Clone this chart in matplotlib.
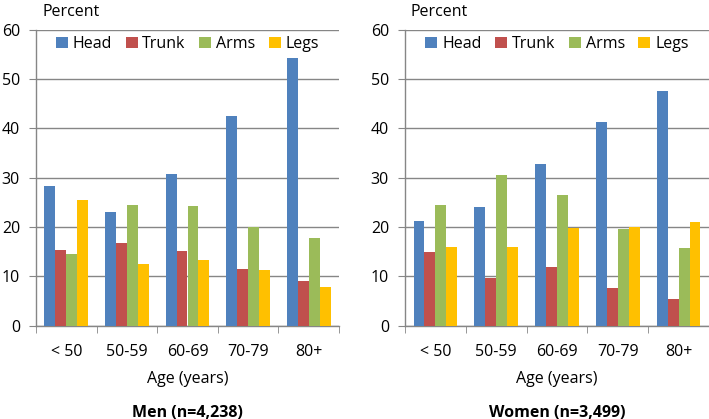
import matplotlib
matplotlib.use("Agg")
import matplotlib.pyplot as plt
import numpy as np

plt.rcParams['font.family'] = ['Open Sans', 'DejaVu Sans']

ages = ['< 50', '50-59', '60-69', '70-79', '80+']
parts = ['Head', 'Trunk', 'Arms', 'Legs']
colors = ['#4F81BD', '#C0504D', '#9BBB59', '#FFC000']

men_head = [28.4, 23.1, 30.8, 42.5, 54.3]
men_trunk = [15.3, 16.8, 15.2, 11.5, 9.0]
men_arms = [14.5, 24.4, 24.2, 20.0, 17.8]
men_legs = [25.5, 12.5, 13.4, 11.3, 7.9]

women_head = [21.2, 24.0, 32.7, 41.2, 47.6]
women_trunk = [14.9, 9.7, 11.9, 7.6, 5.5]
women_arms = [24.4, 30.6, 26.4, 19.7, 15.7]
women_legs = [15.9, 15.9, 19.8, 20.0, 21.0]

men = [men_head, men_trunk, men_arms, men_legs]
women = [women_head, women_trunk, women_arms, women_legs]

W, H = 709, 419
fig = plt.figure(figsize=(W / 100, H / 100), dpi=100)

ax1 = fig.add_axes([36 / W, 1 - 325.7 / H, 303 / W, 296 / H])
ax2 = fig.add_axes([405 / W, 1 - 325.7 / H, 304 / W, 296 / H])

grid_c = '#868686'
w = 0.18
x = np.arange(len(ages))

for ax, data, title in [(ax1, men, 'Men (n=4,238)'), (ax2, women, 'Women (n=3,499)')]:
    for i, (vals, c) in enumerate(zip(data, colors)):
        ax.bar(x + (i - 1.5) * w, vals, width=w, color=c, label=parts[i], zorder=3)
    ax.set_xlim(-0.5, 4.5)
    ax.set_ylim(0, 60)
    ax.set_yticks(range(0, 61, 10))
    ax.yaxis.grid(True, color=grid_c, linewidth=1, zorder=0)
    ax.set_xticks(x)
    ax.set_xticklabels(ages, fontsize=11.5)
    ax.set_xticks(np.arange(-0.5, 5, 1), minor=True)
    ax.tick_params(axis='x', which='major', length=0, pad=13)
    ax.tick_params(axis='x', which='minor', length=5, color=grid_c, direction='out')
    ax.tick_params(axis='y', length=5, color=grid_c, labelsize=11.5, pad=6.5)
    for s in ['top', 'right']:
        ax.spines[s].set_visible(False)
    for s in ['left', 'bottom']:
        ax.spines[s].set_color(grid_c)
        ax.spines[s].set_linewidth(1)
    ax.set_xlabel('Age (years)', fontsize=11.5, labelpad=8)
    ax.set_title(title, fontsize=11.5, fontweight='bold', y=-0.335)
    ax.legend(loc='upper center', bbox_to_anchor=(0.5, 1.005), ncol=4, frameon=False,
              fontsize=11.5, handlelength=0.75, handleheight=0.75, handletextpad=0.3,
              columnspacing=0.85, borderaxespad=0.1)

fig.text(42 / W, 1 - 12 / H, 'Percent', fontsize=11.5, va='center', ha='left')
fig.text(411 / W, 1 - 12 / H, 'Percent', fontsize=11.5, va='center', ha='left')

fig.savefig('out.png', dpi=100)
